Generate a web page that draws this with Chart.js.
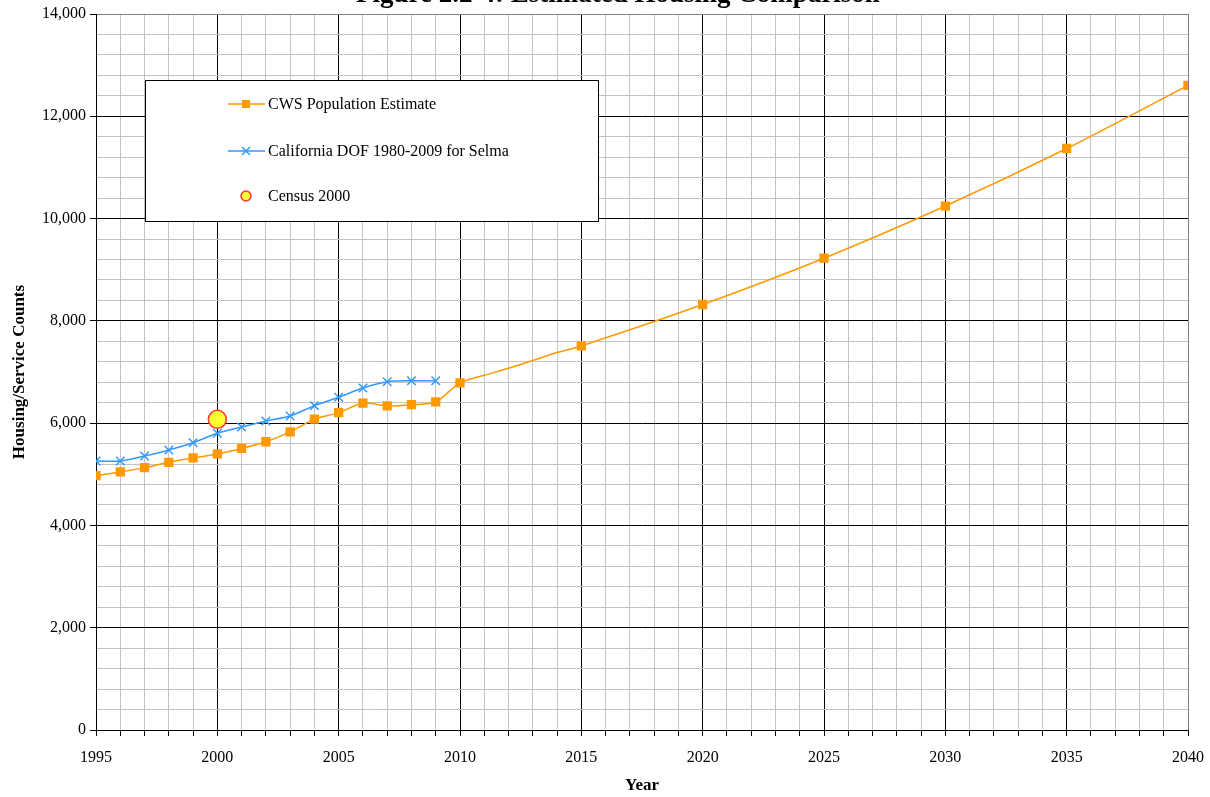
<!DOCTYPE html>
<html>
<head>
<meta charset="utf-8">
<script src="https://cdn.jsdelivr.net/npm/chart.js@4"></script>
<style>
  html, body { margin: 0; padding: 0; background: #fff; }
  #wrap { position: relative; width: 1210px; height: 797px; }
</style>
</head>
<body>
<div id="wrap"><canvas id="housingChart" width="1210" height="797"></canvas></div>
<script>
// values
const cwsYears = [1995, 1996, 1997, 1998, 1999, 2000, 2001, 2002, 2003, 2004, 2005, 2006, 2007, 2008, 2009, 2010, 2011, 2012, 2013, 2014, 2015, 2020, 2025, 2030, 2035, 2040];
const cwsCounts = [4975, 5045, 5130, 5234, 5319, 5397, 5505, 5636, 5830, 6077, 6205, 6390, 6336, 6360, 6418, 6788, 6935, 7072, 7225, 7380, 7510, 8320, 9225, 10245, 11370, 12605];
// markers only on the published years
const cwsMarked = [1995, 1996, 1997, 1998, 1999, 2000, 2001, 2002, 2003, 2004, 2005, 2006, 2007, 2008, 2009, 2010, 2015, 2020, 2025, 2030, 2035, 2040];

const dofYears = [1995, 1996, 1997, 1998, 1999, 2000, 2001, 2002, 2003, 2004, 2005, 2006, 2007, 2008, 2009];
const dofCounts = [5260, 5260, 5358, 5475, 5618, 5801, 5925, 6042, 6140, 6342, 6505, 6688, 6811, 6830, 6830];

const censusYears = [2000];
const censusCounts = [6075];

const chartTitle = 'Figure 2.2-4: Estimated Housing Comparison';
const serif = "'Liberation Serif', 'Times New Roman', serif";

const orange = '#FF9900';
const blue = '#3399FF';

function toPoints(xs, ys) {
    return xs.map((x, i) => ({ x: x, y: ys[i] }));
}

// title sits partly above the canvas like in the source image
const titlePlugin = {
    id: 'cutTitle',
    afterDraw(chart) {
        const ctx = chart.ctx;
        ctx.save();
        ctx.font = 'bold 27px ' + serif;
        ctx.fillStyle = '#000';
        ctx.textAlign = 'center';
        ctx.textBaseline = 'alphabetic';
        ctx.fillText(chartTitle, 618, 2);
        ctx.restore();
    }
};

// boxed legend inside the plot area
const boxLegend = {
    id: 'boxLegend',
    afterDatasetsDraw(chart) {
        const ctx = chart.ctx;
        ctx.save();
        ctx.fillStyle = '#fff';
        ctx.fillRect(145, 80, 453, 141);
        ctx.strokeStyle = '#000';
        ctx.lineWidth = 1;
        ctx.strokeRect(145.5, 80.5, 453, 141);

        const rows = [104, 151, 196];
        chart.data.datasets.forEach((ds, i) => {
            const y = rows[i];
            if (ds.showLine !== false) {
                ctx.strokeStyle = ds.borderColor;
                ctx.lineWidth = 1.5;
                ctx.beginPath();
                ctx.moveTo(228, y);
                ctx.lineTo(265, y);
                ctx.stroke();
            }
            ctx.fillStyle = ds.pointBackgroundColor;
            ctx.strokeStyle = ds.pointBorderColor;
            ctx.lineWidth = 1.5;
            ctx.beginPath();
            if (ds.pointStyle === 'rect') {
                ctx.fillRect(242, y - 4, 8, 8);
            } else if (ds.pointStyle === 'circle') {
                ctx.arc(246, y, 5, 0, Math.PI * 2);
                ctx.fill();
                ctx.stroke();
            } else {
                ctx.moveTo(242, y - 4); ctx.lineTo(250, y + 4);
                ctx.moveTo(250, y - 4); ctx.lineTo(242, y + 4);
                ctx.stroke();
            }
            ctx.fillStyle = '#000';
            ctx.font = '16px ' + serif;
            ctx.textAlign = 'left';
            ctx.textBaseline = 'middle';
            ctx.fillText(ds.label, 268, y + 1);
        });
        ctx.restore();
    }
};

const ctx = document.getElementById('housingChart').getContext('2d');

const housingChart = new Chart(ctx, {
    type: 'line',
    data: {
        datasets: [
            {
                label: 'CWS Population Estimate',
                data: toPoints(cwsYears, cwsCounts),
                borderColor: orange,
                backgroundColor: orange,
                pointBackgroundColor: orange,
                pointBorderColor: orange,
                borderWidth: 1.5,
                pointStyle: 'rect',
                pointRadius: cwsYears.map(y => cwsMarked.includes(y) ? 5.5 : 0),
                tension: 0.3,
                order: 2
            },
            {
                label: 'California DOF 1980-2009 for Selma',
                data: toPoints(dofYears, dofCounts),
                borderColor: blue,
                backgroundColor: blue,
                pointBackgroundColor: blue,
                pointBorderColor: blue,
                borderWidth: 1.5,
                pointStyle: 'crossRot',
                pointRadius: 6,
                pointBorderWidth: 1.5,
                tension: 0.3,
                order: 1
            },
            {
                label: 'Census 2000',
                data: toPoints(censusYears, censusCounts),
                showLine: false,
                pointStyle: 'circle',
                pointRadius: 9,
                pointBorderWidth: 1.5,
                pointBackgroundColor: '#FFFF33',
                pointBorderColor: '#FF3333',
                borderColor: '#FF3333',
                backgroundColor: '#FFFF33',
                order: 0
            }
        ]
    },
    options: {
        responsive: false,
        animation: false,
        layout: { padding: { left: 0, right: 22, top: 14, bottom: 0 } },
        plugins: {
            legend: { display: false },
            title: { display: false },
            tooltip: { enabled: false }
        },
        scales: {
            x: {
                type: 'linear',
                min: 1995,
                max: 2040,
                afterFit: function(scale) {
                    scale.height = 67;
                    scale.paddingLeft = 0;
                    scale.paddingRight = 0;
                },
                border: { color: '#000', width: 1 },
                grid: {
                    color: c => c.tick.value === 2040 ? '#808080' : (c.tick.value % 5 === 0 ? '#000' : '#c4c4c4'),
                    tickColor: '#000',
                    tickLength: 6,
                    lineWidth: 1
                },
                ticks: {
                    stepSize: 1,
                    autoSkip: false,
                    maxRotation: 0,
                    padding: 12,
                    color: '#000',
                    font: { family: serif, size: 16 },
                    callback: v => v % 5 === 0 ? String(v) : ''
                },
                title: {
                    display: true,
                    text: 'Year',
                    color: '#000',
                    font: { family: serif, size: 17, weight: 'bold' },
                    padding: { top: 4, bottom: 1 }
                }
            },
            y: {
                min: 0,
                max: 14000,
                afterFit: function(scale) { scale.width = 96; },
                border: { color: '#000', width: 1 },
                grid: {
                    color: c => c.tick.value === 14000 ? '#808080' : (c.tick.value % 2000 === 0 ? '#000' : '#c4c4c4'),
                    tickColor: c => c.tick.value % 2000 === 0 ? '#000' : 'rgba(0,0,0,0)',
                    tickLength: 6,
                    lineWidth: 1
                },
                ticks: {
                    stepSize: 400,
                    autoSkip: false,
                    padding: 4,
                    color: '#000',
                    font: { family: serif, size: 16 },
                    callback: v => v % 2000 === 0 ? v.toLocaleString('en-US') : ''
                },
                title: {
                    display: true,
                    text: 'Housing/Service Counts',
                    color: '#000',
                    font: { family: serif, size: 17, weight: 'bold' },
                    padding: { top: 9, bottom: 4 }
                }
            }
        }
    },
    plugins: [boxLegend, titlePlugin]
});
</script>
</body>
</html>
